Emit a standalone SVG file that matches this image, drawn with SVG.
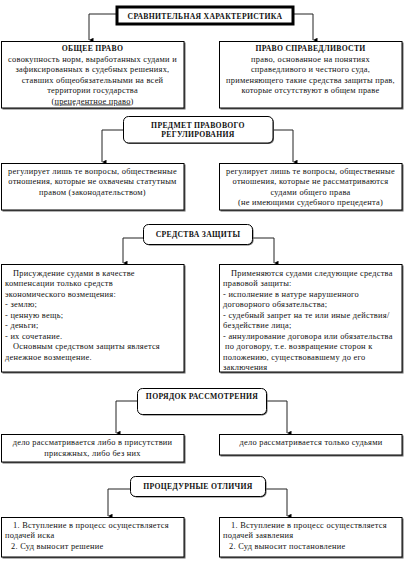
<svg xmlns="http://www.w3.org/2000/svg" width="405" height="571" viewBox="0 0 405 571">
<defs>
<marker id="arr" viewBox="0 0 6 6" refX="3" refY="6" markerWidth="4.5" markerHeight="4.5" orient="auto-start-reverse" markerUnits="userSpaceOnUse">
<path d="M0,0 L6,0 L3,6 Z" fill="#000"/>
</marker>
<style>
text{font-family:"Liberation Serif","Times New Roman",serif;font-size:8.4px;letter-spacing:0.25px;fill:#111}
.b{font-weight:bold;font-size:7.7px;letter-spacing:0.3px}
.c{text-anchor:middle}
.box{fill:#fff;stroke:#000;stroke-width:1}
.sh{fill:#666}
.hdr{fill:#fff;stroke:#000;stroke-width:1}
.title{fill:#fff;stroke:#000;stroke-width:3}
.con{fill:none;stroke:#222;stroke-width:1}
</style>
</defs>
<g id="connectors">
<path class="con" d="M117,14 H89 V40" marker-end="url(#arr)"/>
<path class="con" d="M293,14 H313 V40" marker-end="url(#arr)"/>
<path class="con" d="M123,130 H102 V162" marker-end="url(#arr)"/>
<path class="con" d="M273,130 H293 V162" marker-end="url(#arr)"/>
<path class="con" d="M143,238 H123 V263" marker-end="url(#arr)"/>
<path class="con" d="M252,238 H274 V263" marker-end="url(#arr)"/>
<path class="con" d="M137,401 H116 V433" marker-end="url(#arr)"/>
<path class="con" d="M266,401 H287 V433" marker-end="url(#arr)"/>
<path class="con" d="M130,489 H108 V516" marker-end="url(#arr)"/>
<path class="con" d="M266,489 H287 V516" marker-end="url(#arr)"/>
</g>
<g id="title">
<rect class="title" x="117" y="7" width="176" height="17"/>
<text class="b c" x="205" y="18.5">СРАВНИТЕЛЬНАЯ ХАРАКТЕРИСТИКА</text>
</g>
<g id="common-law">
<rect class="sh" x="2.5" y="42.5" width="183" height="67"/>
<rect class="box" x="1.5" y="41.5" width="182.5" height="66.5"/>
<text class="c" x="92.5"><tspan class="b" x="92.5" y="51">ОБЩЕЕ ПРАВО</tspan><tspan x="92.5" y="61.5">совокупность норм, выработанных судами и</tspan><tspan x="92.5" y="72">зафиксированных в судебных решениях,</tspan><tspan x="92.5" y="82.5">ставших общеобязательными на всей</tspan><tspan x="92.5" y="93">территории государства</tspan><tspan x="92.5" y="103.5">(<tspan text-decoration="underline">прецедентное право</tspan>)</tspan></text>
</g>
<g id="equity">
<rect class="sh" x="220.5" y="42.5" width="183" height="67"/>
<rect class="box" x="219.5" y="41.5" width="182.5" height="66.5"/>
<text class="c" x="310.5"><tspan class="b" x="310.5" y="51">ПРАВО СПРАВЕДЛИВОСТИ</tspan><tspan x="310.5" y="61.5">право, основанное на понятиях</tspan><tspan x="310.5" y="72">справедливого и честного суда,</tspan><tspan x="310.5" y="82.5">применяющего такие средства защиты прав,</tspan><tspan x="310.5" y="93">которые отсутствуют в общем праве</tspan></text>
</g>
<g id="subject">
<rect class="sh" x="124.5" y="117.5" width="149.5" height="26.5" rx="5"/>
<rect class="hdr" x="123.5" y="116.5" width="149.5" height="26.5" rx="5"/>
<text class="b c" x="198"><tspan x="198" y="127.5">ПРЕДМЕТ ПРАВОВОГО</tspan><tspan x="198" y="137">РЕГУЛИРОВАНИЯ</tspan></text>
</g>
<g id="subject-left">
<rect class="sh" x="2.5" y="164.5" width="183" height="47"/>
<rect class="box" x="1.5" y="163.5" width="182.5" height="46.5"/>
<text class="c"><tspan x="92.5" y="173.5">регулирует лишь те вопросы, общественные</tspan><tspan x="92.5" y="184">отношения, которые не охвачены статутным</tspan><tspan x="92.5" y="194.5">правом (законодательством)</tspan></text>
</g>
<g id="subject-right">
<rect class="sh" x="220.5" y="164.5" width="183" height="47"/>
<rect class="box" x="219.5" y="163.5" width="182.5" height="46.5"/>
<text class="c"><tspan x="310.5" y="173.5">регулирует лишь те вопросы, общественные</tspan><tspan x="310.5" y="184">отношения, которые не рассматриваются</tspan><tspan x="310.5" y="194.5">судами общего права</tspan><tspan x="310.5" y="205">(не имеющими судебного прецедента)</tspan></text>
</g>
<g id="remedies">
<rect class="sh" x="144.5" y="225.5" width="109" height="20" rx="5"/>
<rect class="hdr" x="143.5" y="224.5" width="109" height="20" rx="5"/>
<text class="b c" x="198" y="237">СРЕДСТВА ЗАЩИТЫ</text>
</g>
<g id="remedies-left">
<rect class="sh" x="2.5" y="265.5" width="183" height="108"/>
<rect class="box" x="1.5" y="264.5" width="182.5" height="107.5"/>
<text><tspan x="13" y="275.5">Присуждение судами в качестве</tspan><tspan x="5" y="286">компенсации только средств</tspan><tspan x="5" y="296.5">экономического возмещения:</tspan><tspan x="5" y="307">- землю;</tspan><tspan x="5" y="317.5">- ценную вещь;</tspan><tspan x="5" y="328">- деньги;</tspan><tspan x="5" y="338.5">- их сочетание.</tspan><tspan x="13" y="349">Основным средством защиты является</tspan><tspan x="5" y="359.5">денежное возмещение.</tspan></text>
</g>
<g id="remedies-right">
<rect class="sh" x="220.5" y="265.5" width="183" height="108"/>
<rect class="box" x="219.5" y="264.5" width="182.5" height="107.5"/>
<text><tspan x="231" y="275.5">Применяются судами следующие средства</tspan><tspan x="223" y="286">правовой защиты:</tspan><tspan x="223" y="296.5">- исполнение в натуре нарушенного</tspan><tspan x="223" y="307">договорного обязательства;</tspan><tspan x="223" y="317.5">- судебный запрет на те или иные действия/</tspan><tspan x="223" y="328">бездействие лица;</tspan><tspan x="223" y="338.5">- аннулирование договора или обязательства</tspan><tspan x="225" y="349">по договору, т.е. возвращение сторон к</tspan><tspan x="223" y="359.5">положению, существовавшему до его</tspan><tspan x="223" y="370">заключения</tspan></text>
</g>
<g id="procedure">
<rect class="sh" x="138.5" y="389.5" width="129" height="26" rx="5"/>
<rect class="hdr" x="137.5" y="388.5" width="129" height="26" rx="5"/>
<text class="b c" x="202" y="398.5">ПОРЯДОК РАССМОТРЕНИЯ</text>
</g>
<g id="procedure-left">
<rect class="sh" x="2.5" y="435.5" width="183" height="28"/>
<rect class="box" x="1.5" y="434.5" width="182.5" height="27.5"/>
<text class="c"><tspan x="92.5" y="445">дело рассматривается либо в присутствии</tspan><tspan x="92.5" y="455.5">присяжных, либо без них</tspan></text>
</g>
<g id="procedure-right">
<rect class="sh" x="220.5" y="435.5" width="183" height="21"/>
<rect class="box" x="219.5" y="434.5" width="182.5" height="20.5"/>
<text class="c" x="311" y="445">дело рассматривается только судьями</text>
</g>
<g id="differences">
<rect class="sh" x="131.5" y="477.5" width="135" height="20" rx="5"/>
<rect class="hdr" x="130.5" y="476.5" width="135" height="20" rx="5"/>
<text class="b c" x="198" y="489">ПРОЦЕДУРНЫЕ ОТЛИЧИЯ</text>
</g>
<g id="differences-left">
<rect class="sh" x="2.5" y="518.5" width="183" height="40"/>
<rect class="box" x="1.5" y="517.5" width="182.5" height="39.5"/>
<text><tspan x="13" y="527.5">1. Вступление в процесс осуществляется</tspan><tspan x="5" y="538">подачей иска</tspan><tspan x="11" y="548.5">2. Суд выносит решение</tspan></text>
</g>
<g id="differences-right">
<rect class="sh" x="220.5" y="518.5" width="183" height="40"/>
<rect class="box" x="219.5" y="517.5" width="182.5" height="39.5"/>
<text><tspan x="231" y="527.5">1. Вступление в процесс осуществляется</tspan><tspan x="223" y="538">подачей заявления</tspan><tspan x="229" y="548.5">2. Суд выносит постановление</tspan></text>
</g>
</svg>
